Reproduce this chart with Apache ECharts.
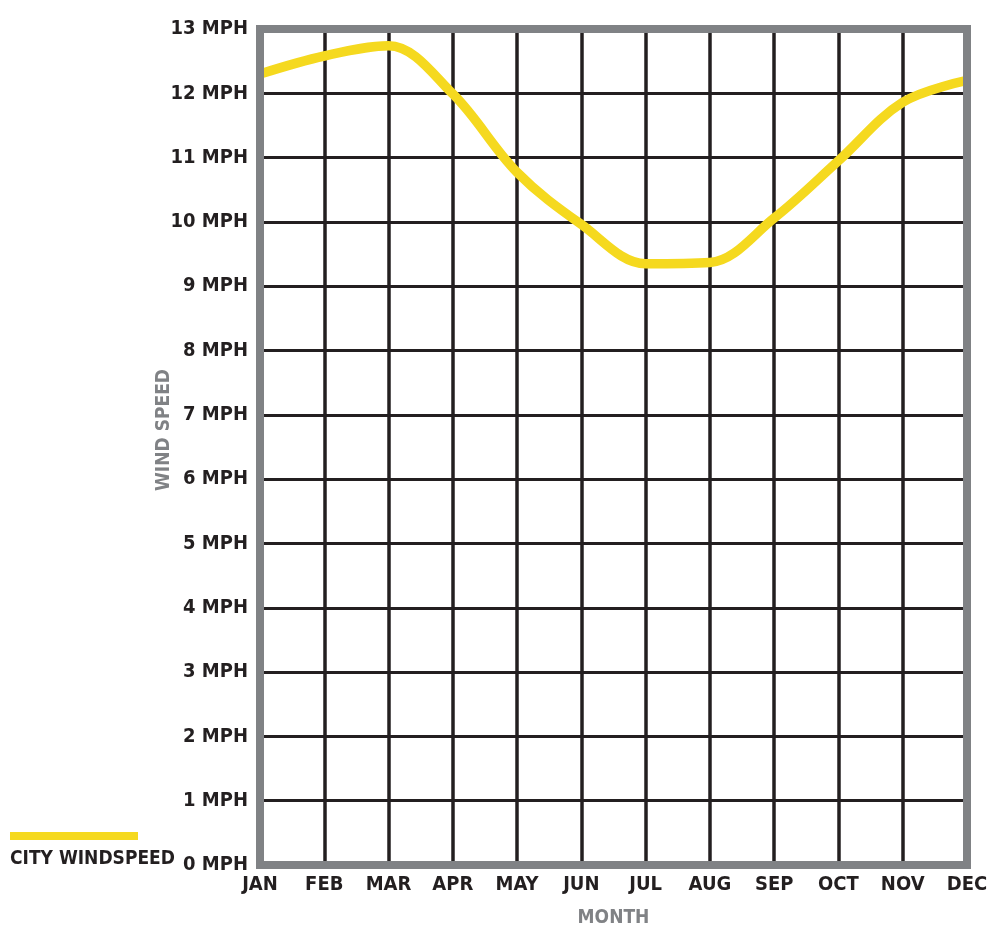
<!DOCTYPE html>
<html>
<head>
<meta charset="utf-8">
<script src="https://cdn.jsdelivr.net/npm/echarts@6/dist/echarts.min.js"></script>
<style>
html,body{margin:0;padding:0;background:#fff;}
#chart{width:991px;height:935px;}
</style>
</head>
<body>
<div id="chart"></div>
<script>
const months = ['JAN','FEB','MAR','APR','MAY','JUN','JUL','AUG','SEP','OCT','NOV','DEC'];
const windSpeed = [12.3, 12.58, 12.74, 11.99, 10.77, 9.96, 9.35, 9.37, 10.06, 10.95, 11.86, 12.2];
const seriesName = 'CITY WINDSPEED';
const yTickUnit = ' MPH';

const FONT = '"Liberation Sans Narrow", "DejaVu Sans Condensed", sans-serif';
const GRAY = '#808285';
const BLACK = '#231F20';
const YELLOW = '#F5D91F';

const chart = echarts.init(document.getElementById('chart'));
const borderLine = {show:true, onZero:false, lineStyle:{color:GRAY, width:8, cap:'square'}};
const hidden = {show:false};

chart.setOption({
  animation:false,
  grid:{left:260, right:24, top:29, bottom:70, containLabel:false},
  legend:[
    {data:[seriesName], left:10, top:832, padding:0, icon:'rect', itemWidth:128, itemHeight:8,
     formatter:function(){return '';}, selectedMode:false,
     textStyle:{fontSize:1}},
    {data:[seriesName], left:5, top:850, padding:0, icon:'rect', itemWidth:0, itemHeight:0, selectedMode:false,
     textStyle:{fontFamily:FONT, fontWeight:'bold', fontSize:19, color:BLACK}}
  ],
  xAxis:[
    {type:'category', data:months, boundaryGap:false, position:'bottom', z:0,
     axisLine:{show:false, onZero:false}, axisTick:hidden,
     axisLabel:{interval:0, fontFamily:FONT, fontWeight:'bold', fontSize:20, color:BLACK, margin:10},
     splitLine:{show:true, interval:0, lineStyle:{color:BLACK, width:3.5}},
     name:'MONTH', nameLocation:'middle', nameGap:44, nameMoveOverlap:false,
     nameTextStyle:{fontFamily:FONT, fontWeight:'bold', fontSize:19, color:GRAY}},
    {type:'category', data:months, boundaryGap:false, position:'bottom', z:10,
     axisLine:borderLine, axisTick:hidden, axisLabel:hidden, splitLine:hidden},
    {type:'category', data:months, boundaryGap:false, position:'top', z:10,
     axisLine:borderLine, axisTick:hidden, axisLabel:hidden, splitLine:hidden}
  ],
  yAxis:[
    {type:'value', min:0, max:13, interval:1, position:'left', z:0,
     axisLine:{show:false, onZero:false}, axisTick:hidden,
     axisLabel:{fontFamily:FONT, fontWeight:'bold', fontSize:20, color:BLACK, margin:12,
       formatter:function(v){return v + yTickUnit;}},
     splitLine:{show:true, lineStyle:{color:BLACK, width:3}},
     name:'WIND SPEED', nameLocation:'middle', nameGap:86, nameMoveOverlap:false,
     nameTextStyle:{fontFamily:FONT, fontWeight:'bold', fontSize:19, color:GRAY, padding:[0,0,0,34]}},
    {type:'value', min:0, max:13, interval:1, position:'left', z:10,
     axisLine:borderLine, axisTick:hidden, axisLabel:hidden, splitLine:hidden},
    {type:'value', min:0, max:13, interval:1, position:'right', z:10,
     axisLine:borderLine, axisTick:hidden, axisLabel:hidden, splitLine:hidden}
  ],
  series:[
    {name:seriesName, type:'line', data:windSpeed, xAxisIndex:0, yAxisIndex:0,
     smooth:0.35, symbol:'none', z:2,
     lineStyle:{color:YELLOW, width:9.5}, itemStyle:{color:YELLOW}}
  ]
});
</script>
</body>
</html>
